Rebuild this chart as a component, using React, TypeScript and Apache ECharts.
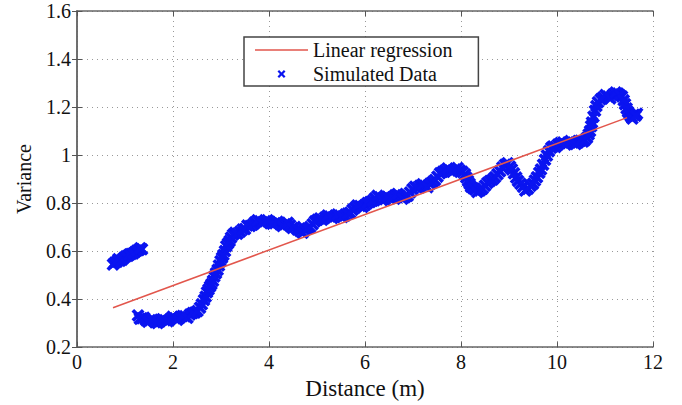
import React, { useEffect, useRef } from "react";
import * as echarts from "echarts";

// Simulated data, first short segment
const distance1 = [0.75, 0.833, 0.896, 0.979, 1.063, 1.125, 1.208, 1.29, 1.354];
const variance1 = [0.544, 0.556, 0.56, 0.572, 0.58, 0.588, 0.596, 0.604, 0.608];
const distance1b = [0.79, 0.86, 0.94, 1.02, 1.09, 1.17, 1.25, 1.32];
const variance1b = [0.552, 0.566, 0.564, 0.578, 0.586, 0.59, 0.602, 0.612];

// Simulated data, main segment
const distance2 = [
  1.271, 1.354, 1.438, 1.521, 1.625, 1.729, 1.833, 1.938, 2.042, 2.146, 2.25, 2.354, 2.458, 2.563,
  2.646, 2.708, 2.771, 2.833, 2.896, 2.958, 3.021, 3.083, 3.146, 3.208, 3.292, 3.396, 3.5, 3.604,
  3.708, 3.813, 3.917, 4.021, 4.125, 4.229, 4.333, 4.438, 4.542, 4.646, 4.75, 4.854, 4.958, 5.063,
  5.167, 5.271, 5.375, 5.479, 5.583, 5.688, 5.792, 5.896, 6.0, 6.104, 6.208, 6.313, 6.417, 6.521,
  6.625, 6.729, 6.833, 6.938, 7.042, 7.146, 7.25, 7.354, 7.458, 7.563, 7.667, 7.771, 7.875, 7.979,
  8.083, 8.146, 8.208, 8.292, 8.396, 8.5, 8.604, 8.708, 8.813, 8.917, 9.021, 9.104, 9.188, 9.292,
  9.396, 9.5, 9.583, 9.667, 9.75, 9.833, 9.917, 10.021, 10.125, 10.229, 10.333, 10.438, 10.542,
  10.625, 10.688, 10.729, 10.792, 10.854, 10.958, 11.063, 11.167, 11.271, 11.354, 11.417, 11.479,
  11.542, 11.604, 11.667,
];
const variance2 = [
  0.332, 0.32, 0.312, 0.312, 0.304, 0.308, 0.312, 0.316, 0.32, 0.324, 0.328, 0.336, 0.344, 0.364,
  0.396, 0.428, 0.452, 0.476, 0.508, 0.54, 0.572, 0.6, 0.632, 0.656, 0.676, 0.68, 0.692, 0.704,
  0.72, 0.724, 0.724, 0.72, 0.716, 0.712, 0.712, 0.708, 0.7, 0.684, 0.688, 0.7, 0.724, 0.736,
  0.74, 0.744, 0.744, 0.748, 0.748, 0.76, 0.78, 0.788, 0.792, 0.804, 0.82, 0.824, 0.816, 0.82,
  0.832, 0.828, 0.824, 0.844, 0.868, 0.872, 0.872, 0.88, 0.896, 0.924, 0.936, 0.936, 0.94, 0.936,
  0.92, 0.892, 0.868, 0.856, 0.852, 0.872, 0.892, 0.908, 0.932, 0.96, 0.952, 0.924, 0.892, 0.868,
  0.86, 0.88, 0.908, 0.94, 0.98, 1.016, 1.036, 1.044, 1.052, 1.052, 1.052, 1.052, 1.056,
  1.072, 1.1, 1.136, 1.184, 1.22, 1.24, 1.244, 1.252, 1.256, 1.244, 1.212, 1.18,
  1.16, 1.168, 1.172,
];
const distance2b = [
  1.31, 1.4, 1.48, 1.57, 1.68, 1.78, 1.89, 1.99, 2.09, 2.2, 2.3, 2.41, 2.51, 2.6, 2.68, 2.74, 2.8,
  2.86, 2.93, 2.99, 3.05, 3.11, 3.18, 3.25, 3.34, 3.45, 3.55, 3.66, 3.76, 3.86, 3.97, 4.07, 4.18,
  4.28, 4.39, 4.49, 4.59, 4.7, 4.8, 4.91, 5.01, 5.11, 5.22, 5.32, 5.43, 5.53, 5.64, 5.74, 5.84,
  5.95, 6.05, 6.16, 6.26, 6.36, 6.47, 6.57, 6.68, 6.78, 6.89, 6.99, 7.09, 7.2, 7.3, 7.41, 7.51,
  7.62, 7.72, 7.82, 7.93, 8.03, 8.11, 8.18, 8.25, 8.34, 8.45, 8.55, 8.66, 8.76, 8.86, 8.97, 9.06,
  9.15, 9.24, 9.34, 9.45, 9.54, 9.63, 9.71, 9.79, 9.88, 9.97, 10.07, 10.18, 10.28, 10.39, 10.49,
  10.58, 10.66, 10.71, 10.76, 10.82, 10.91, 11.01, 11.11, 11.22, 11.31, 11.39, 11.45, 11.51,
  11.57, 11.64,
];
const variance2b = [
  0.318, 0.322, 0.306, 0.314, 0.3, 0.316, 0.308, 0.326, 0.314, 0.33, 0.322, 0.342, 0.35, 0.378,
  0.41, 0.44, 0.462, 0.494, 0.522, 0.558, 0.584, 0.62, 0.642, 0.668, 0.672, 0.69, 0.706, 0.71,
  0.728, 0.716, 0.728, 0.714, 0.722, 0.704, 0.718, 0.696, 0.69, 0.676, 0.694, 0.712, 0.73, 0.73,
  0.748, 0.738, 0.752, 0.742, 0.756, 0.772, 0.79, 0.784, 0.8, 0.81, 0.83, 0.812, 0.826, 0.824,
  0.838, 0.818, 0.83, 0.858, 0.864, 0.878, 0.866, 0.888, 0.91, 0.93, 0.944, 0.93, 0.946, 0.93,
  0.906, 0.88, 0.862, 0.846, 0.86, 0.884, 0.898, 0.92, 0.948, 0.966, 0.94, 0.906, 0.88, 0.852,
  0.872, 0.894, 0.926, 0.96, 0.998, 1.03, 1.034, 1.05, 1.044, 1.058, 1.046, 1.06, 1.062, 1.086,
  1.12, 1.16, 1.204, 1.232, 1.25, 1.236, 1.26, 1.25, 1.228, 1.194, 1.17, 1.152, 1.164,
];

// Linear regression end points
const regressionX = [0.75, 11.46];
const regressionY = [0.364, 1.156];

const xTicks = { min: 0, max: 12, interval: 2 };
const yTicks = { min: 0.2, max: 1.6, interval: 0.2 };

const FONT = "Liberation Serif";
const X_SYMBOL =
  "path://M0,2L2,0L5,3L8,0L10,2L7,5L10,8L8,10L5,7L2,10L0,8L3,5Z";
const LINE_ICON = "path://M0,0H53V1.5H0Z";

export default function App() {
  const ref = useRef<HTMLDivElement>(null);

  useEffect(() => {
    if (!ref.current) return;
    const chart = echarts.init(ref.current, undefined, { renderer: "svg" });

    const scatterData: number[][] = [];
    distance1.forEach((x, i) => scatterData.push([x, variance1[i]]));
    distance1b.forEach((x, i) => scatterData.push([x, variance1b[i]]));
    distance2.forEach((x, i) => scatterData.push([x, variance2[i]]));
    distance2b.forEach((x, i) => scatterData.push([x, variance2b[i]]));
    const regData = regressionX.map((x, i) => [x, regressionY[i]]);

    const frame = { show: true, lineStyle: { color: "#666", width: 1.5 } };
    const tick = { show: true, inside: true, length: 5, lineStyle: { color: "#555", width: 1 } };
    const split = { show: true, lineStyle: { color: "#999", type: [1, 4] as any, width: 1 } };

    chart.setOption({
      animation: false,
      backgroundColor: "#fff",
      grid: { left: 77, right: 29, top: 11, bottom: 44 },
      legend: {
        orient: "vertical",
        left: 244,
        top: 37,
        padding: [3, 26, 2, 11],
        itemGap: 4,
        itemWidth: 53,
        itemHeight: 8,
        backgroundColor: "#fff",
        borderColor: "#444",
        borderWidth: 1.5,
        borderRadius: 0,
        textStyle: { fontFamily: FONT, fontSize: 20, color: "#111" },
        data: [
          { name: "Linear regression", icon: LINE_ICON },
          { name: "Simulated Data" },
        ],
      },
      xAxis: [
        {
          type: "value",
          ...xTicks,
          position: "bottom",
          axisLine: frame,
          axisTick: tick,
          splitLine: split,
          axisLabel: { fontFamily: FONT, fontSize: 20, color: "#111", margin: 5 },
          name: "Distance (m)",
          nameLocation: "middle",
          nameGap: 24,
          nameTextStyle: { fontFamily: FONT, fontSize: 23, color: "#111" },
        },
        {
          type: "value",
          ...xTicks,
          position: "top",
          axisLine: frame,
          axisTick: tick,
          splitLine: { show: false },
          axisLabel: { show: false },
        },
      ],
      yAxis: [
        {
          type: "value",
          ...yTicks,
          position: "left",
          axisLine: frame,
          axisTick: tick,
          splitLine: split,
          axisLabel: { fontFamily: FONT, fontSize: 20, color: "#111", margin: 6 },
          name: "Variance",
          nameLocation: "middle",
          nameRotate: 90,
          nameGap: 43,
          nameTextStyle: { fontFamily: FONT, fontSize: 20, color: "#111" },
        },
        {
          type: "value",
          ...yTicks,
          position: "right",
          axisLine: frame,
          axisTick: tick,
          splitLine: { show: false },
          axisLabel: { show: false },
        },
      ],
      series: [
        {
          name: "Linear regression",
          type: "line",
          data: regData,
          symbol: "none",
          lineStyle: { color: "#e2564c", width: 1.5 },
          itemStyle: { color: "#e2564c" },
          z: 3,
        },
        {
          name: "Simulated Data",
          type: "scatter",
          data: scatterData,
          symbol: X_SYMBOL,
          symbolSize: 13,
          itemStyle: { color: "#0a14f0", opacity: 1 },
          z: 2,
        },
      ],
    });

    return () => chart.dispose();
  }, []);

  return (
    <div
      ref={ref}
      style={{ position: "fixed", left: 0, top: 0, width: 682, height: 405 }}
    />
  );
}
